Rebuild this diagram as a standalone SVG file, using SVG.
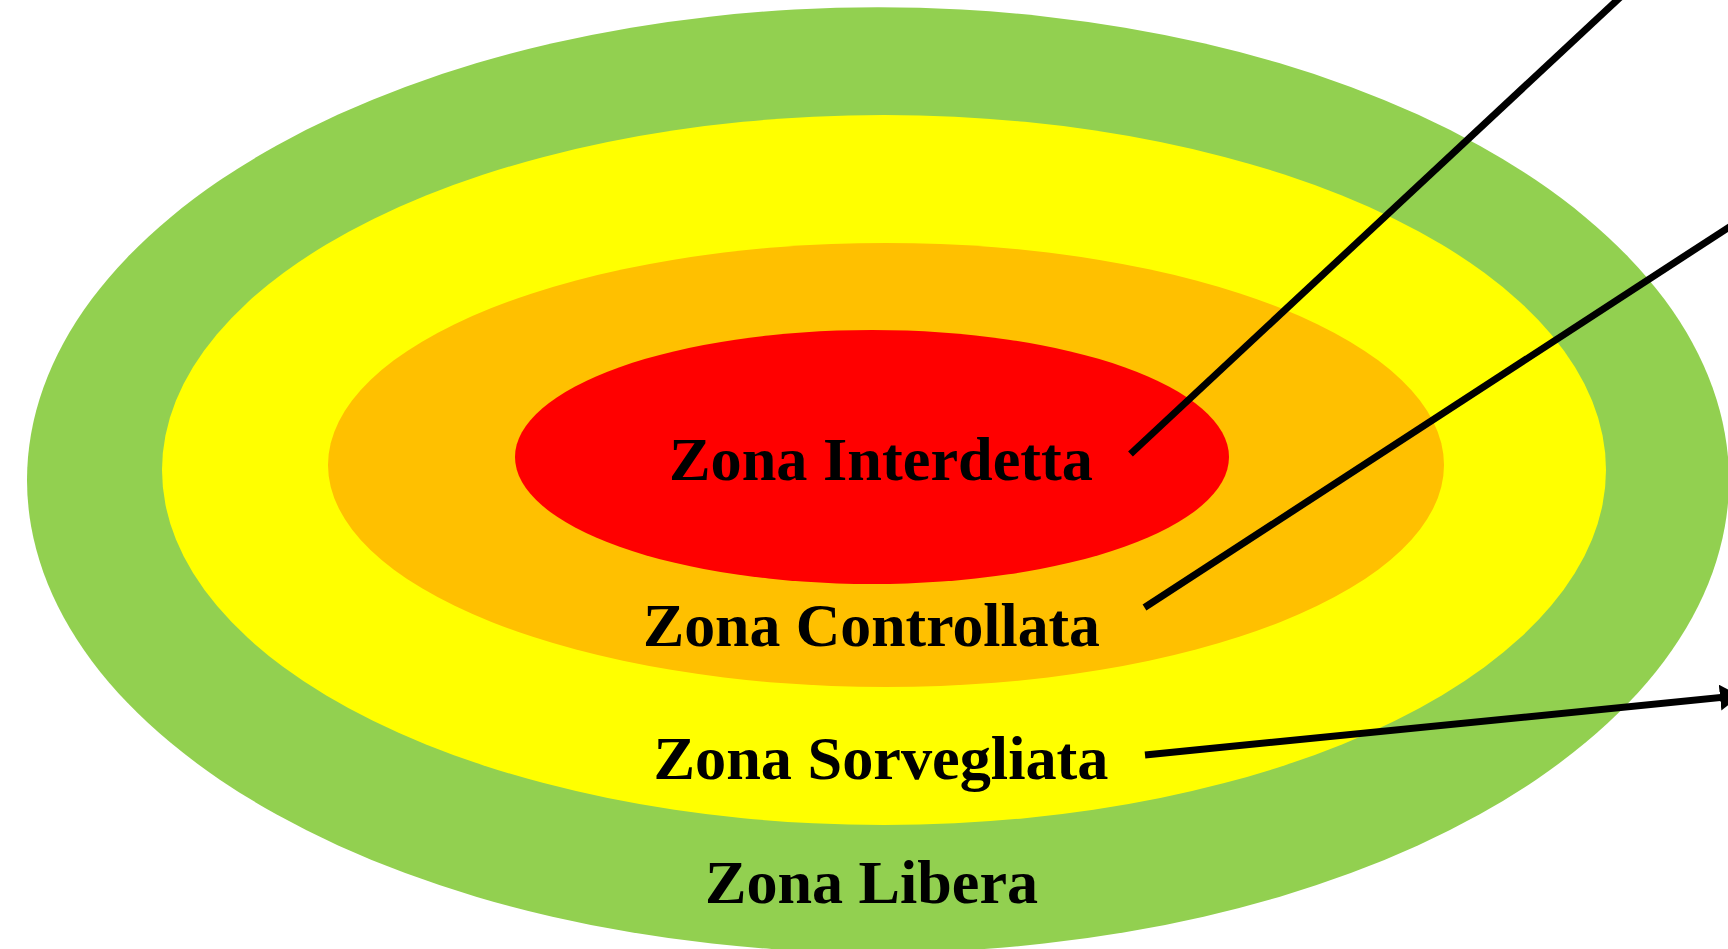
<svg xmlns="http://www.w3.org/2000/svg" width="1728" height="949" viewBox="0 0 1728 949">
<style>
.lbl{font-family:"Liberation Serif","Times New Roman",serif;font-weight:bold;font-size:62px;fill:#000;text-anchor:middle}
.conn{stroke:#000;stroke-width:7;fill:none}
</style>
<defs>
<marker id="arrow" markerUnits="userSpaceOnUse" markerWidth="22" markerHeight="26" refX="20" refY="13" orient="auto">
<path d="M0,0 L20,13 L0,26 Z" fill="#000"/>
</marker>
</defs>
<rect width="1728" height="949" fill="#fff"/>
<g id="zona-libera">
<ellipse cx="878" cy="480" rx="851" ry="472.7" fill="#92D050"/>
</g>
<g id="zona-sorvegliata">
<ellipse cx="884" cy="470" rx="722" ry="355" fill="#FFFF00"/>
</g>
<g id="zona-controllata">
<ellipse cx="886" cy="465" rx="558" ry="222" fill="#FFC000"/>
</g>
<g id="zona-interdetta">
<ellipse cx="872" cy="457" rx="357" ry="127" fill="#FF0000"/>
</g>
<g id="labels">
<text class="lbl" x="881" y="480" textLength="424" lengthAdjust="spacingAndGlyphs">Zona Interdetta</text>
<text class="lbl" x="871.5" y="646" textLength="457" lengthAdjust="spacingAndGlyphs">Zona Controllata</text>
<text class="lbl" x="881" y="779" textLength="455" lengthAdjust="spacingAndGlyphs">Zona Sorvegliata</text>
<text class="lbl" x="871.5" y="903" textLength="333" lengthAdjust="spacingAndGlyphs">Zona Libera</text>
</g>
<g id="connectors">
<line class="conn" x1="1130.5" y1="454" x2="1628" y2="-10"/>
<line class="conn" x1="1144.5" y1="607.5" x2="1740" y2="220"/>
<line class="conn" x1="1145" y1="755" x2="1740" y2="695.6" stroke-width="8" marker-end="url(#arrow)"/>
</g>
</svg>
